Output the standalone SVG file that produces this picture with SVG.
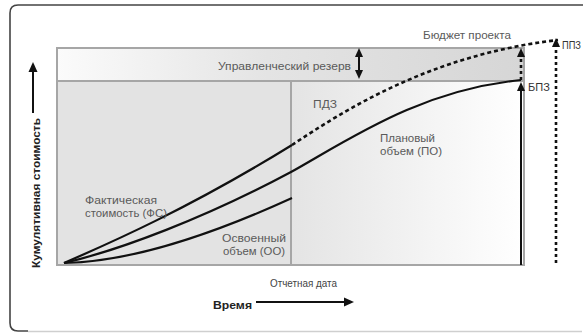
<svg xmlns="http://www.w3.org/2000/svg" width="583" height="333" viewBox="0 0 583 333">
<style>
text{font-family:"Liberation Sans",Arial,sans-serif;}
.lbl{font-size:11px;fill:#5a5a5a;}
.tag{font-size:11px;fill:#333;}
.ax{font-size:11px;font-weight:bold;fill:#222;}
.curve{fill:none;stroke:#111;stroke-width:2.2;}
.dash{fill:none;stroke:#111;stroke-width:2.6;stroke-dasharray:4 3;}
.vdash{fill:none;stroke:#111;stroke-width:2.6;stroke-dasharray:3 3;}
.ln{fill:none;stroke:#111;stroke-width:2;}
.head{fill:#111;}
</style>
<defs>
<linearGradient id="band" x1="0" y1="0" x2="1" y2="0">
<stop offset="0" stop-color="#fbfbfb"/>
<stop offset="0.45" stop-color="#e4e4e4"/>
<stop offset="1" stop-color="#d6d6d6"/>
</linearGradient>
<linearGradient id="right" x1="0" y1="0" x2="1" y2="0">
<stop offset="0" stop-color="#e4e4e4"/>
<stop offset="1" stop-color="#ffffff"/>
</linearGradient>
</defs>
<rect width="583" height="333" fill="#ffffff"/>
<g id="frame">
<path d="M583,5 H18 Q10,5 10,13 V323 Q10,331 18,331 H28" fill="none" stroke="#444" stroke-width="1.6"/>
<path d="M28,331.5 H582" fill="none" stroke="#cfcfcf" stroke-width="1.4"/>
</g>
<g id="chart-area">
<rect id="reserve-band" x="57" y="48" width="467" height="33" fill="url(#band)"/>
<rect id="past-area" x="57" y="81" width="234" height="184" fill="#e3e3e3"/>
<rect id="future-area" x="291" y="81" width="233" height="184" fill="url(#right)"/>
<rect x="57" y="48" width="467" height="217" fill="none" stroke="#a6a6a6" stroke-width="2"/>
<line x1="57" y1="81" x2="524" y2="81" stroke="#a6a6a6" stroke-width="2"/>
<line x1="291" y1="81" x2="291" y2="265" stroke="#a6a6a6" stroke-width="2"/>
</g>
<g id="connectors">
<path id="fs" class="curve" d="M64,263 C110,243 190,208 292,145"/>
<path id="pdz" class="dash" d="M292,145 C345,110 430,55 558,40"/>
<path id="po" class="curve" d="M64,263 C120,250 205,218 291,172 C350,139 420,90 521,80"/>
<path id="oo" class="curve" d="M64,263 C125,262 200,240 292,198"/>
<line class="ln" x1="521" y1="265" x2="521" y2="90"/>
<polygon class="head" points="521,82 525,91 517,91"/>
<line class="vdash" x1="521" y1="80" x2="521" y2="56"/>
<polygon class="head" points="521,48 525,57 517,57"/>
<line class="vdash" x1="556" y1="263" x2="556" y2="46"/>
<polygon class="head" points="556,38 560,47 552,47"/>
<line class="ln" x1="359" y1="56" x2="359" y2="72"/>
<polygon class="head" points="359,48 363,57 355,57"/>
<polygon class="head" points="359,79 363,70 355,70"/>
<line class="ln" x1="33" y1="113" x2="33" y2="70"/>
<polygon class="head" points="33,62 37.5,72 28.5,72"/>
<line class="ln" x1="256" y1="302" x2="346" y2="302"/>
<polygon class="head" points="354,302 344,297.5 344,306.5"/>
</g>
<g id="labels">
<text class="lbl" x="218" y="70" textLength="133" lengthAdjust="spacingAndGlyphs">Управленческий резерв</text>
<text class="lbl" x="423" y="39" textLength="88" lengthAdjust="spacingAndGlyphs">Бюджет проекта</text>
<text class="tag" x="562" y="49" style="font-size:10px" textLength="19" lengthAdjust="spacingAndGlyphs">ППЗ</text>
<text class="tag" x="528" y="91">БПЗ</text>
<text class="lbl" x="313" y="108" textLength="24" lengthAdjust="spacingAndGlyphs">ПДЗ</text>
<text class="lbl" x="380" y="142" textLength="55" lengthAdjust="spacingAndGlyphs">Плановый</text>
<text class="lbl" x="380" y="155" textLength="62" lengthAdjust="spacingAndGlyphs">объем (ПО)</text>
<text class="lbl" x="85" y="204" textLength="72" lengthAdjust="spacingAndGlyphs">Фактическая</text>
<text class="lbl" x="85" y="217" textLength="82" lengthAdjust="spacingAndGlyphs">стоимость (ФС)</text>
<text class="lbl" x="222" y="242" textLength="64" lengthAdjust="spacingAndGlyphs">Освоенный</text>
<text class="lbl" x="223" y="255" textLength="62" lengthAdjust="spacingAndGlyphs">объем (ОО)</text>
<text class="lbl" x="270" y="287" textLength="67" lengthAdjust="spacingAndGlyphs" style="fill:#444">Отчетная дата</text>
<text class="ax" x="213" y="309" textLength="39" lengthAdjust="spacingAndGlyphs">Время</text>
<text class="ax" transform="translate(40,268) rotate(-90)" x="0" y="0" textLength="150" lengthAdjust="spacingAndGlyphs">Кумулятивная стоимость</text>
</g>
</svg>
